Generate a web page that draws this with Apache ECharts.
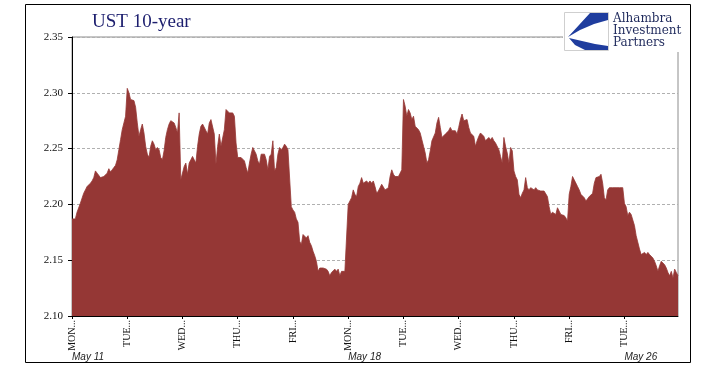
<!DOCTYPE html>
<html>
<head>
<meta charset="utf-8">
<script src="https://cdn.jsdelivr.net/npm/echarts@6/dist/echarts.min.js"></script>
<style>
  html, body { margin: 0; padding: 0; background: #fff; }
  #chart { width: 705px; height: 375px; }
</style>
</head>
<body>
<div id="chart"></div>
<script>
// intraday 10y yield, one array per trading day
const mon11 = [2.187, 2.187, 2.187, 2.193, 2.193, 2.201, 2.200, 2.210, 2.213, 2.216, 2.217, 2.219, 2.221, 2.224, 2.230, 2.228, 2.227, 2.224, 2.224, 2.225, 2.225, 2.228, 2.232, 2.229, 2.231, 2.233, 2.235, 2.240, 2.249, 2.258, 2.267, 2.273, 2.279];
const tue12 = [2.304, 2.300, 2.294, 2.293, 2.293, 2.287, 2.273, 2.261, 2.267, 2.272, 2.264, 2.252, 2.245, 2.242, 2.252, 2.257, 2.254, 2.249, 2.251, 2.249, 2.242, 2.240, 2.248, 2.260, 2.267, 2.272, 2.275, 2.275, 2.273, 2.269, 2.264, 2.282, 2.222];
const wed13 = [2.221, 2.234, 2.237, 2.227, 2.237, 2.240, 2.243, 2.240, 2.237, 2.252, 2.263, 2.270, 2.272, 2.272, 2.266, 2.263, 2.273, 2.276, 2.275, 2.263, 2.236, 2.252, 2.263, 2.252, 2.252, 2.267, 2.285, 2.284, 2.282, 2.283, 2.282, 2.279, 2.255];
const thu14 = [2.242, 2.242, 2.242, 2.242, 2.239, 2.233, 2.228, 2.237, 2.245, 2.251, 2.248, 2.245, 2.239, 2.236, 2.245, 2.246, 2.245, 2.240, 2.231, 2.243, 2.245, 2.257, 2.230, 2.233, 2.245, 2.251, 2.249, 2.251, 2.254, 2.252, 2.249, 2.248, 2.198];
const fri15 = [2.195, 2.193, 2.187, 2.184, 2.167, 2.164, 2.173, 2.172, 2.170, 2.172, 2.166, 2.163, 2.158, 2.154, 2.149, 2.140, 2.143, 2.143, 2.143, 2.143, 2.142, 2.140, 2.136, 2.139, 2.140, 2.142, 2.140, 2.142, 2.136, 2.140, 2.139, 2.140, 2.140];
const mon18 = [2.200, 2.201, 2.206, 2.213, 2.209, 2.207, 2.216, 2.219, 2.224, 2.219, 2.219, 2.221, 2.219, 2.221, 2.219, 2.221, 2.216, 2.210, 2.212, 2.215, 2.218, 2.219, 2.213, 2.213, 2.215, 2.225, 2.231, 2.227, 2.225, 2.224, 2.225, 2.228, 2.231];
const tue19 = [2.294, 2.288, 2.279, 2.285, 2.282, 2.276, 2.279, 2.270, 2.269, 2.267, 2.264, 2.258, 2.252, 2.246, 2.237, 2.240, 2.248, 2.257, 2.258, 2.264, 2.273, 2.278, 2.269, 2.260, 2.261, 2.263, 2.263, 2.266, 2.269, 2.266, 2.267, 2.266, 2.263];
const wed20 = [2.269, 2.276, 2.281, 2.275, 2.276, 2.276, 2.269, 2.264, 2.263, 2.261, 2.252, 2.257, 2.261, 2.264, 2.264, 2.261, 2.257, 2.258, 2.260, 2.258, 2.260, 2.257, 2.255, 2.254, 2.249, 2.243, 2.237, 2.260, 2.252, 2.246, 2.237, 2.251, 2.248];
const thu21 = [2.230, 2.225, 2.222, 2.209, 2.206, 2.210, 2.213, 2.224, 2.215, 2.213, 2.215, 2.215, 2.213, 2.215, 2.213, 2.213, 2.212, 2.213, 2.212, 2.212, 2.207, 2.198, 2.191, 2.193, 2.193, 2.191, 2.197, 2.194, 2.191, 2.190, 2.190, 2.188, 2.185];
const fri22 = [2.209, 2.216, 2.225, 2.222, 2.221, 2.216, 2.213, 2.209, 2.209, 2.206, 2.203, 2.204, 2.207, 2.207, 2.210, 2.219, 2.224, 2.225, 2.225, 2.227, 2.219, 2.206, 2.204, 2.213, 2.215, 2.215, 2.215, 2.215, 2.215, 2.215, 2.215, 2.215, 2.215];
const tue26 = [2.201, 2.198, 2.190, 2.193, 2.191, 2.191, 2.181, 2.172, 2.166, 2.160, 2.155, 2.154, 2.157, 2.155, 2.157, 2.155, 2.155, 2.152, 2.149, 2.145, 2.140, 2.145, 2.149, 2.149, 2.146, 2.143, 2.139, 2.136, 2.140, 2.134, 2.142, 2.139, 2.136];

const days = [mon11, tue12, wed13, thu14, fri15, mon18, tue19, wed20, thu21, fri22, tue26];
const dayNames = ['MON', 'TUE', 'WED', 'THU', 'FRI', 'MON', 'TUE', 'WED', 'THU', 'FRI', 'TUE'];
const dayDates = ['5/11', '5/12', '5/13', '5/14', '5/15', '5/18', '5/19', '5/20', '5/21', '5/22', '5/26'];
const weekMarks = ['May 11', '', '', '', '', 'May 18', '', '', '', '', 'May 26'];
const yMin = 2.10, yMax = 2.35, yStep = 0.05;

const cats = [];
const yields = [];
const dayStart = {};
const weekStart = {};
days.forEach((d, k) => {
    d.forEach((v, j) => {
        if (j === 0) {
            dayStart[cats.length] = dayNames[k];
            if (weekMarks[k]) weekStart[cats.length] = weekMarks[k];
        }
        cats.push(dayNames[k] + ' ' + dayDates[k] + ' ' + j);
        yields.push(v);
    });
});

const red = '#953735';
const chart = echarts.init(document.getElementById('chart'));
chart.setOption({
    animation: false,
    title: {
        text: 'UST 10-year',
        left: 92, top: 13, padding: 0,
        textStyle: { fontFamily: 'Liberation Serif', fontSize: 19, fontWeight: 'normal', color: '#1c1e6e' }
    },
    grid: { left: 72, right: 27, top: 37, bottom: 59, show: true, borderColor: '#8c8c8c', borderWidth: 1 },
    xAxis: [
        {
            type: 'category',
            data: cats,
            boundaryGap: false,
            axisLine: { lineStyle: { color: '#000', width: 1 } },
            axisTick: { interval: (i) => i in dayStart, length: 3, lineStyle: { color: '#000' } },
            axisLabel: {
                interval: (i) => i in dayStart,
                formatter: (v, i) => (dayStart[i] || v.split(' ')[0]) + '...',
                rotate: 90, margin: 4,
                fontFamily: 'Liberation Serif', fontSize: 10, color: '#111'
            },
            splitLine: { show: false }
        },
        {
            type: 'category',
            data: cats,
            position: 'bottom',
            boundaryGap: false,
            axisLine: { show: false },
            axisTick: { show: false },
            axisLabel: {
                interval: (i) => i in weekStart,
                formatter: (v, i) => weekStart[i] || '',
                align: 'left', margin: 36,
                fontFamily: 'Liberation Sans', fontStyle: 'italic', fontSize: 10, color: '#222'
            },
            splitLine: { show: false }
        }
    ],
    yAxis: {
        type: 'value',
        min: yMin, max: yMax, interval: yStep,
        axisLine: { show: true, lineStyle: { color: '#000', width: 1 } },
        axisTick: { show: true, length: 4, lineStyle: { color: '#000' } },
        axisLabel: {
            formatter: (v) => v.toFixed(2), margin: 9,
            fontFamily: 'Liberation Serif', fontSize: 11, color: '#111'
        },
        splitLine: { show: true, lineStyle: { color: '#b0b0b0', type: [3, 2], width: 1 } }
    },
    series: [{
        type: 'line',
        data: yields,
        showSymbol: false,
        sampling: 'none',
        lineStyle: { color: red, width: 0.8 },
        areaStyle: { color: red, opacity: 1 },
        itemStyle: { color: red }
    }],
    graphic: [
        { type: 'rect', z: 100, shape: { x: 563, y: 8, width: 122, height: 44 }, style: { fill: '#fff' } },
        { type: 'rect', z: 101, shape: { x: 564.5, y: 12.5, width: 44, height: 38 }, style: { fill: '#fff', stroke: '#cfcfcf', lineWidth: 1 } },
        { type: 'polygon', z: 102, shape: { points: [[590, 13], [608, 13], [608, 20], [594, 24], [580, 30], [568, 37]] }, style: { fill: '#1f3d9e' } },
        { type: 'polygon', z: 102, shape: { points: [[569, 38], [575, 45], [585, 50], [608, 50], [608, 46], [595, 44], [582, 41]] }, style: { fill: '#1f3d9e' } },
        {
            type: 'text', z: 102, left: 613, top: 13,
            style: { text: 'Alhambra\nInvestment\nPartners', font: '12px "DejaVu Serif"', lineHeight: 12, fill: '#1f2a5c' }
        },
        { type: 'rect', z: 103, shape: { x: 25.5, y: 4.5, width: 665, height: 358 }, style: { fill: 'none', stroke: '#000', lineWidth: 1 } }
    ]
});
</script>
</body>
</html>
